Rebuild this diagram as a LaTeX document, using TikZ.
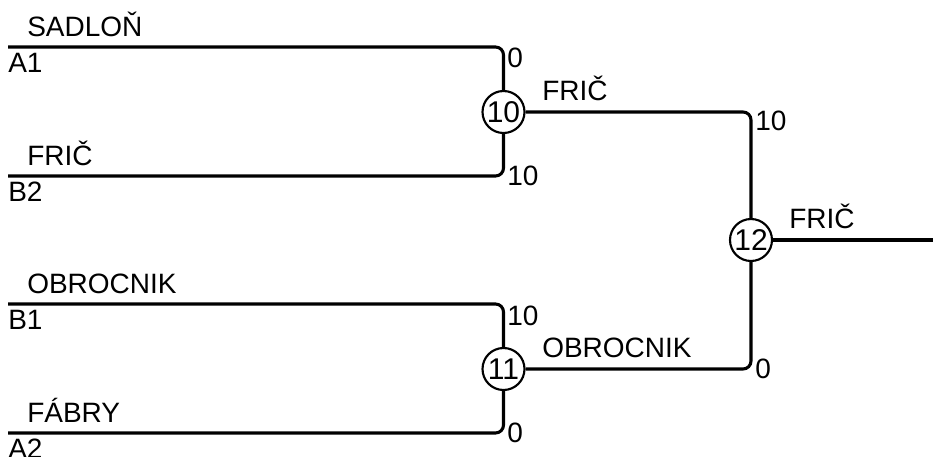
\documentclass[tikz,border=0pt]{standalone}
\usepackage{fontspec}
\setmainfont{Liberation Sans}
\begin{document}
\begin{tikzpicture}[x=0.75pt,y=-0.75pt,
  txt/.style={font=\fontsize{21}{25}\selectfont, inner sep=0pt, anchor=base west},
  bline/.style={line width=2.3pt, rounded corners=6pt},
  match/.style={circle, draw, line width=1.6pt, minimum size=31.5pt, inner sep=0pt, font=\fontsize{22.5}{26}\selectfont}]
\useasboundingbox (0,0) rectangle (933,457);
% match circles
\node[match] (m10) at (503.5,112) {10};
\node[match] (m11) at (503.5,369) {11};
\node[match] (m12) at (751,240) {12};
% line starts
\coordinate (a1) at (8,47);
\coordinate (b2) at (8,176);
\coordinate (b1) at (8,304);
\coordinate (a2) at (8,433);
\coordinate (fin) at (933,240);
% bracket lines
\draw[bline] (a1) -| (m10.north);
\draw[bline] (b2) -| (m10.south);
\draw[bline] (b1) -| (m11.north);
\draw[bline] (a2) -| (m11.south);
\draw[bline] (m10.east) -| (m12.north);
\draw[bline] (m11.east) -| (m12.south);
\draw[bline] (m12.east) -- (fin);
% player names
\node[txt] (p1) at (27,36) {SADLOŇ};
\node[txt] (p2) at (27,165) {FRIČ};
\node[txt] (p3) at (27,293) {OBROCNIK};
\node[txt] (p4) at (27,422) {FÁBRY};
% seeds
\node[txt] (s1) at (8,72) {A1};
\node[txt] (s2) at (8,201) {B2};
\node[txt] (s3) at (8,329) {B1};
\node[txt] (s4) at (8,458) {A2};
% scores
\node[txt] (c1) at (507,67) {0};
\node[txt] (c2) at (507,185) {10};
\node[txt] (c3) at (507,325) {10};
\node[txt] (c4) at (507,442) {0};
\node[txt] (c5) at (755,130) {10};
\node[txt] (c6) at (755,378) {0};
% winners
\node[txt] (w1) at (542,100) {FRIČ};
\node[txt] (w2) at (542,357) {OBROCNIK};
\node[txt] (w3) at (789,228) {FRIČ};
\end{tikzpicture}
\end{document}
